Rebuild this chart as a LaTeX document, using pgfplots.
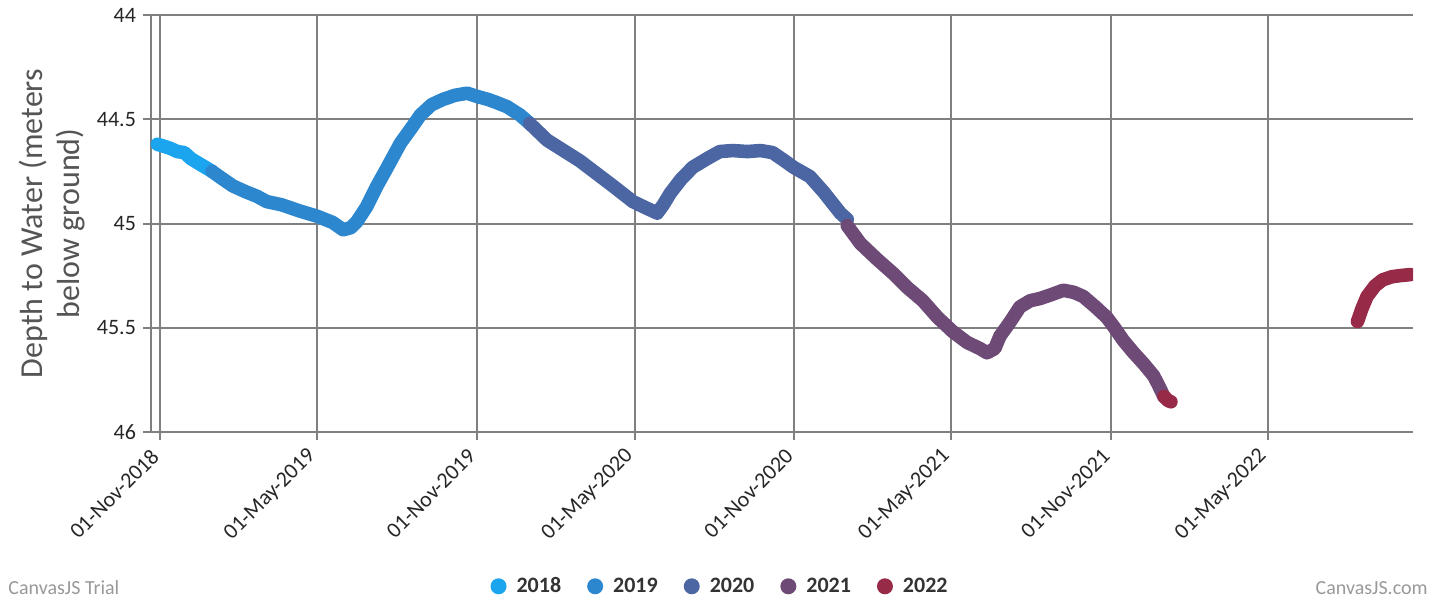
\documentclass[border=0pt]{standalone}
\usepackage{pgfplots}
\pgfplotsset{compat=1.18}
\usepackage{fontspec}
\setmainfont{Carlito}
\definecolor{cA}{HTML}{1BA5EF}
\definecolor{cB}{HTML}{2C87CF}
\definecolor{cC}{HTML}{4B66A2}
\definecolor{cD}{HTML}{6E4A76}
\definecolor{cE}{HTML}{962A47}
\definecolor{gridc}{HTML}{808080}
\definecolor{labc}{HTML}{555555}
\definecolor{wmc}{HTML}{999999}
\begin{document}
\begin{tikzpicture}
\path[use as bounding box] (-75.5pt,-84pt) rectangle (652pt,216pt);
\begin{axis}[
  at={(0,0)}, anchor=south west,
  scale only axis, width=631pt, height=208.5pt,
  xmin=-10.4, xmax=1444, ymin=44, ymax=46, y dir=reverse,
  axis x line*=bottom, axis y line*=left,
  axis line style={draw=gridc, line width=1pt, -},
  grid=major, major grid style={draw=gridc, line width=1pt},
  tick align=outside, major tick length=4pt,
  tick style={draw=gridc, line width=1pt},
  xtick={0,181,365,547,731,912,1096,1277},
  xticklabels={01-Nov-2018,01-May-2019,01-Nov-2019,01-May-2020,01-Nov-2020,01-May-2021,01-Nov-2021,01-May-2022},
  x tick label style={yshift=-4pt, rotate=45, anchor=east, font=\fontsize{11}{11}\selectfont, text=black!85},
  ytick={44,44.5,45,45.5,46},
  yticklabels={44,44.5,45,45.5,46},
  y tick label style={font=\fontsize{11}{11}\selectfont, text=black!85},
  legend style={at={(0.4517,-0.37)}, anchor=center, draw=none, fill=none,
    legend columns=5, font=\bfseries\fontsize{11}{11}\selectfont, text=black!80,
    /tikz/every even column/.append style={column sep=11pt}},
  legend image code/.code={\fill[draw=none] (4pt,0pt) circle (4pt); \path[draw=none, fill=none] (0pt,-4pt) rectangle (11pt,4pt);},
  every axis plot/.append style={line width=6.8pt, line join=round, line cap=round},
]
\addplot[cA] coordinates {(-3,44.62)(5,44.63)(12,44.64)(20,44.655)(28,44.66)(36,44.69)(44,44.71)(52,44.73)(60,44.75)};
\addlegendentry{2018}
\addplot[cB] coordinates {(60,44.75)(70,44.78)(84,44.82)(100,44.85)(112,44.87)(123,44.895)(140,44.91)(161,44.94)(181,44.965)(199,44.995)(211,45.03)(220,45.02)(227,44.99)(238,44.92)(250,44.82)(262,44.73)(277,44.615)(290,44.54)(300,44.48)(313,44.43)(326,44.405)(340,44.385)(354,44.375)(365,44.39)(378,44.405)(388,44.42)(400,44.44)(415,44.48)(426,44.52)};
\addlegendentry{2019}
\addplot[cC] coordinates {(426,44.52)(446,44.60)(465,44.65)(484,44.70)(503,44.76)(522,44.82)(545,44.895)(560,44.925)(573,44.95)(580,44.91)(588,44.855)(600,44.79)(614,44.73)(630,44.69)(645,44.655)(660,44.65)(677,44.655)(692,44.65)(706,44.66)(720,44.70)(730,44.73)(749,44.775)(765,44.85)(784,44.95)(792,44.98)};
\addlegendentry{2020}
\addplot[cD] coordinates {(792,45.01)(807,45.095)(826,45.17)(845,45.24)(862,45.31)(879,45.37)(896,45.45)(914,45.52)(930,45.57)(945,45.60)(953,45.62)(962,45.60)(968,45.54)(980,45.47)(991,45.40)(1003,45.37)(1014,45.36)(1028,45.34)(1041,45.32)(1053,45.33)(1064,45.35)(1078,45.40)(1091,45.45)(1100,45.50)(1110,45.56)(1122,45.62)(1133,45.67)(1145,45.73)(1150,45.77)(1157,45.83)};
\addlegendentry{2021}
\addplot[cE] coordinates {(1157,45.83)(1162,45.85)(1165,45.855)};
\addlegendentry{2022}
\addplot[cE, forget plot] coordinates {(1380,45.47)(1385,45.41)(1391,45.35)(1400,45.30)(1409,45.27)(1420,45.255)(1429,45.25)(1441,45.245)};
\end{axis}
\node[rotate=90, align=center, font=\fontsize{16}{18.5}\selectfont, text=labc] at (-49.5pt,104.25pt) {Depth to Water (meters\\below ground)};
\node[anchor=west, font=\fontsize{10}{10}\selectfont, text=wmc, inner sep=0pt] at (-71.5pt,-78pt) {CanvasJS Trial};
\node[anchor=east, font=\fontsize{10}{10}\selectfont, text=wmc, inner sep=0pt] at (638.5pt,-78pt) {CanvasJS.com};
\end{tikzpicture}
\end{document}
